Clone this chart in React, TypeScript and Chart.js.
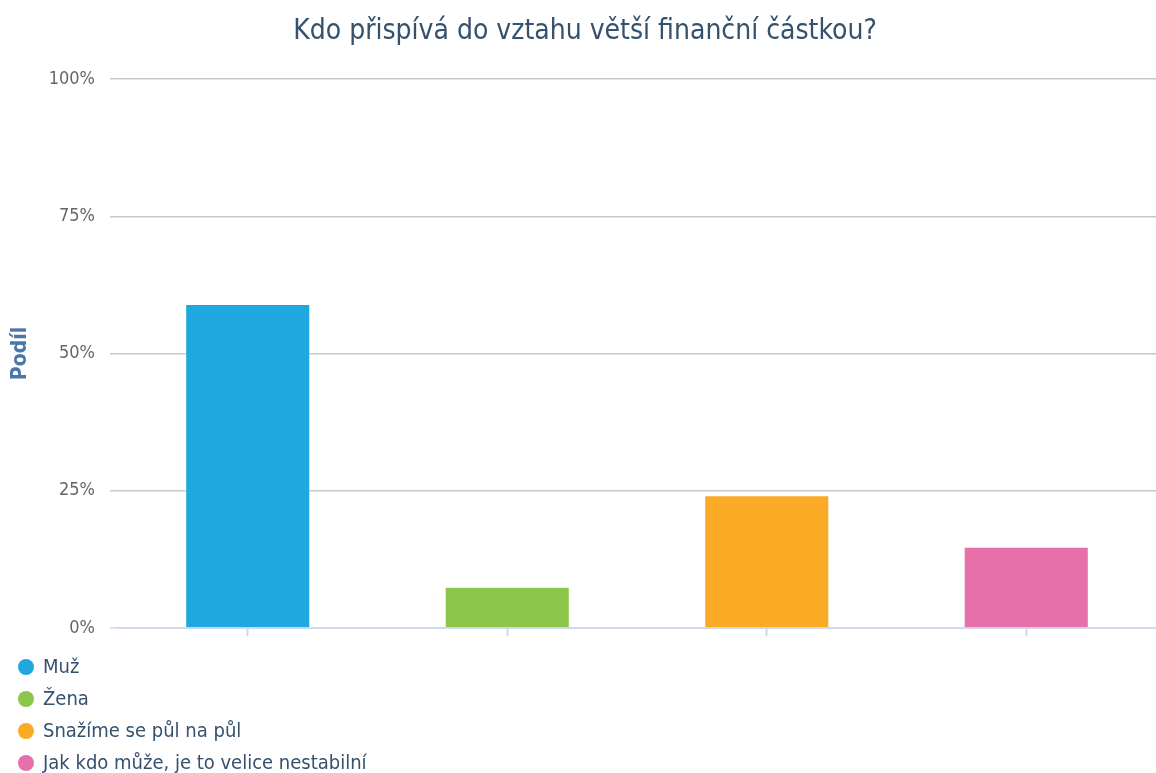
import React, { useEffect, useRef } from 'react';
import { Chart, registerables } from 'chart.js';

Chart.register(...registerables);

const chartTitle = 'Kdo přispívá do vztahu větší finanční částkou?';
const yAxisTitle = 'Podíl';
const categories = ['Muž', 'Žena', 'Snažíme se půl na půl', 'Jak kdo může, je to velice nestabilní'];
const shareValues = [59.0, 7.5, 24.2, 14.8];
const seriesColors = ['#1fa8e0', '#8bc54a', '#fbaa26', '#e76faa'];
const yTickStep = 25;
const yMax = 100;

const FONT = "'DejaVu Sans Condensed', 'DejaVu Sans', sans-serif";

const titlePlugin = {
  id: 'shiftedTitle',
  afterDraw(chart: any) {
    const { ctx } = chart;
    ctx.save();
    ctx.fillStyle = '#34516e';
    ctx.font = `28px ${FONT}`;
    ctx.textAlign = 'center';
    ctx.textBaseline = 'middle';
    ctx.fillText(chartTitle, 585, 32);
    ctx.restore();
  },
};

const legendPlugin = {
  id: 'verticalLegend',
  afterDraw(chart: any) {
    const { ctx, chartArea } = chart;
    ctx.save();
    chart.data.datasets.forEach((ds: any, i: number) => {
      const y = chartArea.bottom + 39 + i * 32;
      ctx.beginPath();
      ctx.fillStyle = ds.backgroundColor;
      ctx.arc(26, y, 8, 0, Math.PI * 2);
      ctx.fill();
      ctx.fillStyle = '#34516e';
      ctx.font = `20px ${FONT}`;
      ctx.textAlign = 'left';
      ctx.textBaseline = 'middle';
      ctx.fillText(ds.label, 43, y + 1);
    });
    ctx.restore();
  },
};

export default function App() {
  const ref = useRef<HTMLCanvasElement>(null);
  useEffect(() => {
    if (!ref.current) return;
    const datasets = categories.map((name, i) => ({
      label: name,
      data: categories.map((_, j) => (j === i ? shareValues[i] : null)),
      backgroundColor: seriesColors[i],
      borderColor: 'rgba(255,255,255,0.5)',
      borderWidth: 1,
      categoryPercentage: 1,
      barPercentage: 0.482,
      skipNull: true,
    }));
    const chart = new Chart(ref.current, {
      type: 'bar',
      data: { labels: categories, datasets },
      plugins: [titlePlugin, legendPlugin],
      options: {
        responsive: false,
        animation: false,
        layout: { padding: { left: 0, right: 0, top: 79, bottom: 137 } },
        plugins: {
          legend: { display: false },
          tooltip: { enabled: false },
          title: { display: false },
        },
        scales: {
          x: {
            grid: {
              drawOnChartArea: false,
              offset: false,
              tickLength: 8,
              tickWidth: 2,
              color: '#ccd6eb',
            },
            border: { color: '#cfd9ec', width: 2 },
            ticks: { display: false },
          },
          y: {
            min: 0,
            max: yMax,
            afterFit: (scale: any) => {
              scale.width = 118;
            },
            ticks: {
              stepSize: yTickStep,
              padding: 15,
              color: '#666666',
              font: { family: FONT, size: 18 },
              callback: (v: any) => `${v}%`,
            },
            grid: {
              tickLength: 8,
              color: (c: any) => (c.tick && c.tick.value === 0 ? '#ccd6eb' : '#c8c8c8'),
              lineWidth: 1.5,
            },
            border: { display: false },
            title: {
              display: true,
              text: yAxisTitle,
              color: '#4a77a8',
              font: { family: FONT, size: 21, weight: 'bold' },
              padding: { top: 8, bottom: 0 },
            },
          },
        },
      },
    });
    return () => chart.destroy();
  }, []);
  return (
    <div style={{ position: 'fixed', left: 0, top: 0, width: 1156, height: 773, background: '#fff' }}>
      <canvas ref={ref} width={1156} height={773} />
    </div>
  );
}
